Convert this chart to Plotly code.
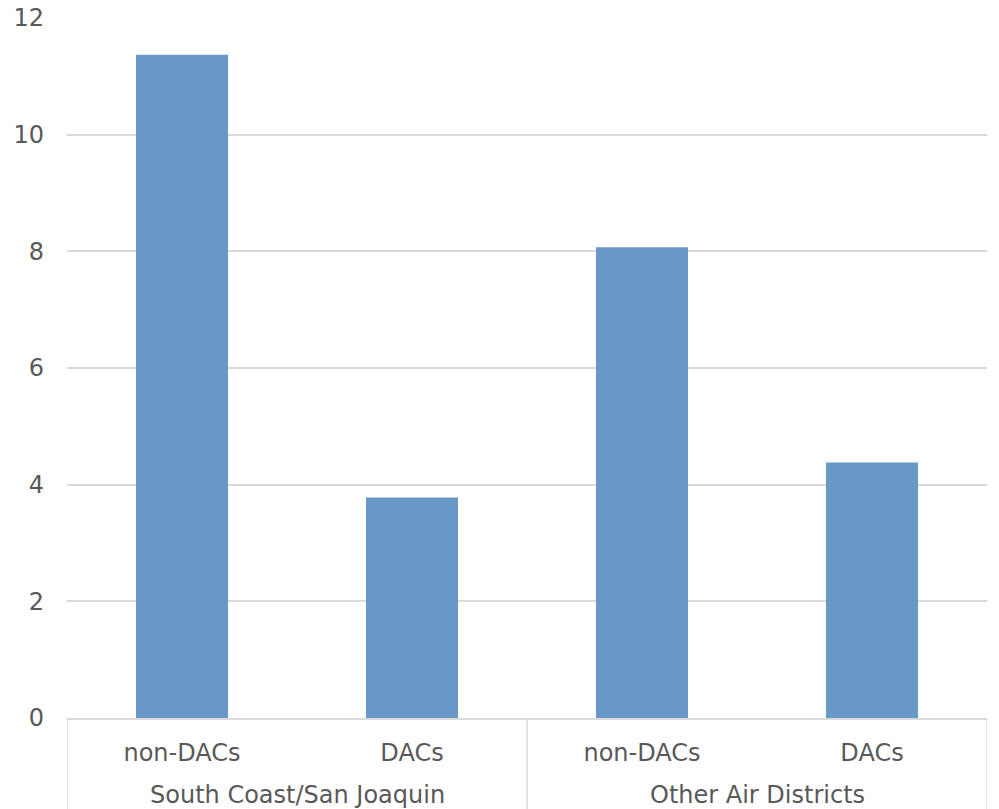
import plotly.graph_objects as go

groups = ["South Coast/San Joaquin", "Other Air Districts"]
group_members = [[0, 1], [2, 3]]
subcats = ["non-DACs", "DACs", "non-DACs", "DACs"]
values = [11.37, 3.78, 8.07, 4.38]
yticks = [0, 2, 4, 6, 8, 10, 12]

FONT = "DejaVu Sans"
GRAY = "#595959"
GRID = "#D9D9D9"
xpos = list(range(len(subcats)))

fig = go.Figure(go.Bar(
    x=xpos,
    y=values,
    width=0.4,
    marker=dict(color="#6897C8", line=dict(width=0)),
))

fig.update_layout(
    width=999, height=809,
    margin=dict(l=67, r=12, t=18, b=91),
    plot_bgcolor="white", paper_bgcolor="white",
    showlegend=False,
    font=dict(family=FONT, size=24, color=GRAY),
)
fig.update_xaxes(
    range=[-0.5, len(subcats) - 0.5],
    tickvals=xpos, ticktext=subcats,
    showgrid=False, zeroline=False,
    showline=True, linecolor=GRID, linewidth=1.5,
    ticks="",
    tickfont=dict(family=FONT, size=24, color=GRAY),
    ticklabelstandoff=12,
    automargin=False,
)
fig.update_yaxes(
    range=[0, 12], tickvals=yticks,
    showgrid=True, gridcolor=GRID, gridwidth=1.5,
    zeroline=False, showline=False,
    tickfont=dict(family=FONT, size=24, color=GRAY),
    ticklabelstandoff=22,
    automargin=False,
)

# group labels and dividers
bounds = set()
for name, members in zip(groups, group_members):
    center = sum(members) / len(members)
    fig.add_annotation(
        x=center, xref="x", y=-0.1095, yref="paper",
        text=name, showarrow=False, yanchor="middle",
        font=dict(family=FONT, size=24, color=GRAY),
    )
    bounds.add(min(members) - 0.5)
    bounds.add(max(members) + 0.5)
for b in sorted(bounds):
    fig.add_shape(
        type="line", xref="x", yref="paper",
        x0=b, x1=b, y0=0, y1=-0.2,
        line=dict(color=GRID, width=1.5),
    )

fig.write_html("out.html")
